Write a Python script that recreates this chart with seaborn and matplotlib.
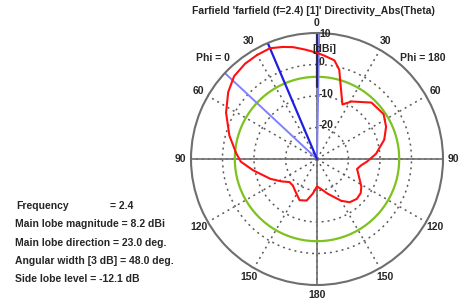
import numpy as np
import matplotlib
matplotlib.use('Agg')
import matplotlib.pyplot as plt
import seaborn as sns

# farfield cut, theta (deg, 0..360 going left from top) and directivity (dBi)
theta_deg = [0, 6, 12, 17, 23, 30, 37, 45, 53, 63, 75, 86, 92, 100, 113, 122,
             130, 138, 145, 157, 166, 173, 180, 187, 197, 210, 217, 225, 232,
             238, 247, 256, 262, 267, 275, 286, 295, 304, 316, 329, 335, 341,
             346, 350, 356, 360]
directivity = [3.7, 4.9, 6.3, 7.2, 8.2, 8.1, 7.9, 7.2, 5.3, 2.4, -1.2, -4.3,
               -5.8, -9.4, -13.9, -16.6, -18.6, -18.6, -17.8, -15.8, -16.4,
               -18.9, -21.3, -20.5, -18.5, -14.7, -12.8, -12.1, -12.4, -13.4,
               -15.5, -16.9, -15.8, -14.1, -11.2, -7.8, -5.8, -4.5, -5.1, -8.7,
               -10.9, -6.6, -0.8, 1.8, 2.9, 3.7]

r_min, r_max = -30, 10
r_rings = [-20, -10, 0]
r_label_vals = [-20, -10, 0, 10]
r_labels = ['-20', '-10', '0', '10']
theta_ticks = list(range(0, 360, 30))
theta_ticklabels = ['0', '30', '60', '90', '120', '150', '180',
                    '150', '120', '90', '60', '30']

main_lobe_mag = 8.2
main_lobe_dir = 23.0
beam_width = 48.0
side_lobe_level = -12.1
side_lobe_abs = round(main_lobe_mag + side_lobe_level, 1)

stat_names = ['Frequency', 'Main lobe magnitude', 'Main lobe direction',
              'Angular width [3 dB]', 'Side lobe level']
stat_values = ['= 2.4', '= 8.2 dBi', '= 23.0 deg.', '= 48.0 deg.', '= -12.1 dB']

sns.set_style('white')
plt.rcParams['font.family'] = ['Liberation Sans', 'DejaVu Sans']
plt.rcParams['font.weight'] = 'bold'

fig = plt.figure(figsize=(4.72, 3.0), dpi=100)
R = 126
cx, cy = 317, 159
ax = fig.add_axes([(cx - R) / 472, (300 - cy - R) / 300, 2 * R / 472, 2 * R / 300],
                  projection='polar')
ax.set_theta_zero_location('N')
ax.set_theta_direction(1)
ax.set_ylim(r_min, r_max)

grid_col = '#5a5a5a'
ax.set_thetagrids(theta_ticks, labels=theta_ticklabels)
ax.set_rgrids(r_rings, labels=[''] * len(r_rings))
ax.grid(True, color=grid_col, linestyle=(0, (1.3, 2.6)), linewidth=1.1)
ax.tick_params(axis='x', pad=-3, labelsize=7.5)
ax.spines['polar'].set_color('#6e6e6e')
ax.spines['polar'].set_linewidth(1.5)
for lab in ax.get_xticklabels():
    lab.set_fontweight('bold')

# solid cross lines through the centre
for a in [0, 90, 180, 270]:
    t = np.deg2rad(a)
    ax.plot([t, t], [r_min, r_max], color='#6e6e6e', lw=1.2)

# side lobe level circle
circ = np.deg2rad(np.arange(0, 361, 2))
ax.plot(circ, np.full(circ.shape, side_lobe_abs), color='#7dc21e', lw=1.6)

# beam lines
for a in [main_lobe_dir - beam_width / 2, main_lobe_dir + beam_width / 2]:
    ax.plot([np.deg2rad(a)] * 2, [r_min, r_max], color='#8080ff', lw=1.4)
ax.plot([np.deg2rad(main_lobe_dir)] * 2, [r_min, r_max], color='#1f1fe0', lw=1.6)
ax.plot([0, 0], [-7, r_max], color='#2a2a55', lw=1.6)

sns.lineplot(x=np.deg2rad(theta_deg), y=directivity, ax=ax, sort=False,
             color='#ff1010', lw=1.5, estimator=None)
ax.set_xlabel('')
ax.set_ylabel('')

# radial labels
for val, lab in zip(r_label_vals, r_labels):
    dy = -1.0 if val == r_max else 1.6
    ax.annotate(lab, xy=(0, val), xytext=(1.5, dy), textcoords='offset points',
                ha='left', va='center', fontsize=7.5, fontweight='bold')
ax.annotate('[dBi]', xy=(0, 5), xytext=(-3, 0), textcoords='offset points',
            ha='left', va='center', fontsize=7.5, fontweight='bold')

fig.text(313 / 472, 1 - 11 / 300,
         "Farfield 'farfield (f=2.4) [1]' Directivity_Abs(Theta)",
         ha='center', va='center', fontsize=7.5, fontweight='bold')
fig.text(213 / 472, 1 - 58 / 300, 'Phi = 0', ha='center', va='center',
         fontsize=7.5, fontweight='bold')
fig.text(423 / 472, 1 - 58 / 300, 'Phi = 180', ha='center', va='center',
         fontsize=7.5, fontweight='bold')

y0 = 206
for i, (n, v) in enumerate(zip(stat_names, stat_values)):
    y = 1 - (y0 + i * 18.3) / 300
    if i == 0:
        fig.text(16 / 472, y, n, ha='left', va='center', fontsize=7.5,
                 fontweight='bold')
        fig.text(110 / 472, y, v, ha='left', va='center', fontsize=7.5,
                 fontweight='bold')
    else:
        fig.text(15 / 472, y, n + ' ' + v, ha='left', va='center',
                 fontsize=7.5, fontweight='bold')

fig.savefig('out.png', dpi=100)
